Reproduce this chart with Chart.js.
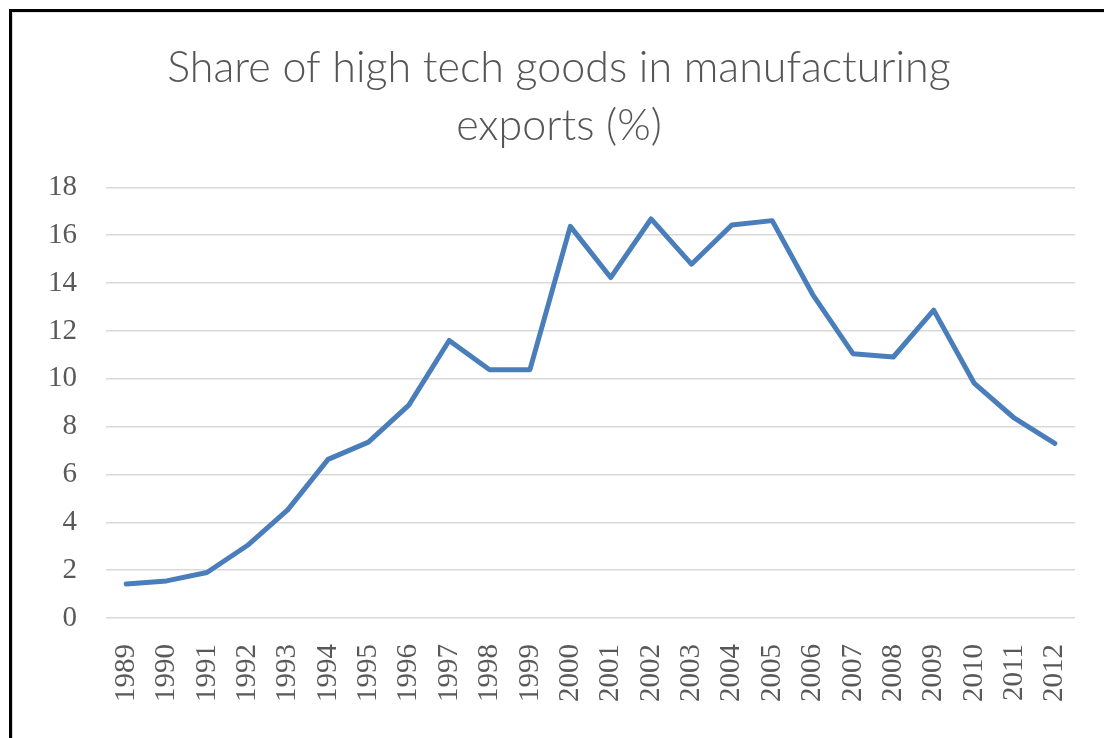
<!DOCTYPE html>
<html lang="en">
<head>
  <meta charset="UTF-8" />
  <title>Share of high tech goods in manufacturing exports (%)</title>
  <script src="https://cdn.jsdelivr.net/npm/chart.js"></script>
  <style>
    html, body {
      margin: 0;
      padding: 0;
      background: #fff;
      overflow: hidden;
    }
    #wrap {
      position: relative;
      width: 1104px;
      height: 738px;
    }
    #frame {
      position: absolute;
      left: 9px;
      top: 9px;
      width: 1200px;
      height: 800px;
      border-left: 3px solid #000;
      border-top: 3px solid #000;
      pointer-events: none;
    }
    #inner {
      position: absolute;
      left: 12px;
      top: 12px;
      width: 1200px;
      height: 800px;
      border-left: 1px solid #d9d9d9;
      border-top: 1px solid #e6e6e6;
      pointer-events: none;
    }
  </style>
</head>
<body>
<div id="wrap">
  <canvas id="chart" width="1104" height="738"></canvas>
  <div id="inner"></div>
  <div id="frame"></div>
</div>
<script>
const years = ["1989", "1990", "1991", "1992", "1993", "1994", "1995", "1996",
  "1997", "1998", "1999", "2000", "2001", "2002", "2003", "2004", "2005",
  "2006", "2007", "2008", "2009", "2010", "2011", "2012"];
const shares = [1.42, 1.55, 1.9, 3.03, 4.52, 6.63, 7.35, 8.9,
  11.6, 10.38, 10.38, 16.37, 14.23, 16.68, 14.79, 16.43, 16.61,
  13.53, 11.05, 10.91, 12.87, 9.82, 8.35, 7.3];
const titleLines = ["Share of high tech goods in manufacturing", "exports (%)"];

const grey = "#595959";

new Chart(document.getElementById("chart"), {
  type: "line",
  data: {
    labels: years,
    datasets: [{
      data: shares,
      borderColor: "#4A7EBB",
      borderWidth: 5,
      borderCapStyle: "round",
      borderJoinStyle: "round",
      pointRadius: 0,
      tension: 0,
      fill: false
    }]
  },
  options: {
    responsive: false,
    animation: false,
    layout: { padding: { left: 43, right: 29, top: 0, bottom: 0 } },
    plugins: {
      legend: { display: false },
      tooltip: { enabled: false },
      title: {
        display: true,
        text: titleLines,
        color: "#555",
        font: { family: "Lato", size: 43, weight: 300, lineHeight: 1.33 },
        padding: { top: 40, bottom: 33 }
      }
    },
    scales: {
      x: {
        offset: true,
        grid: { display: false },
        border: { display: false },
        ticks: {
          color: grey,
          font: { family: "Liberation Serif", size: 29 },
          minRotation: 90,
          maxRotation: 90,
          autoSkip: false,
          padding: 18
        },
        afterFit: (s) => {
          s.height = 120;
          s.paddingLeft = 0;
          s.paddingRight = 0;
        }
      },
      y: {
        min: 0,
        max: 18,
        grid: { color: "#d9d9d9", lineWidth: 1.5, drawTicks: false },
        border: { display: false },
        ticks: {
          stepSize: 2,
          color: grey,
          font: { family: "Liberation Serif", size: 29 },
          padding: 29
        },
        afterFit: (s) => { s.width = 63; }
      }
    }
  }
});
</script>
</body>
</html>
